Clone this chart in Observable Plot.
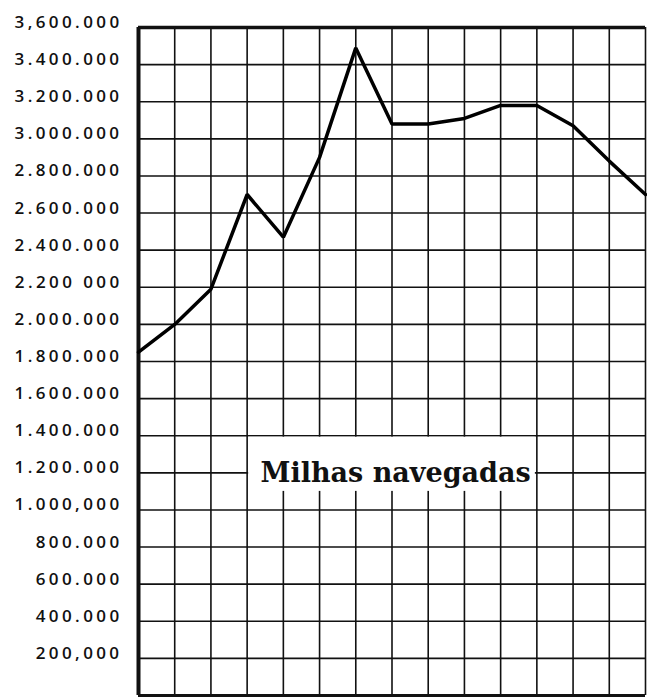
<!DOCTYPE html>
<html>
<head>
<meta charset="utf-8">
<script src="https://cdn.jsdelivr.net/npm/d3@7"></script>
<script src="https://cdn.jsdelivr.net/npm/@observablehq/plot@0.6"></script>
<style>
  html, body { margin: 0; padding: 0; background: #fff; }
</style>
</head>
<body>
<div id="chart"></div>
<script>
// Data
const periods = [0, 1, 2, 3, 4, 5, 6, 7, 8, 9, 10, 11, 12, 13, 14];
const miles = [1850000, 2000000, 2190000, 2700000, 2470000, 2900000, 3490000, 3080000, 3080000, 3110000, 3180000, 3180000, 3070000, 2880000, 2700000];
const yTickValues = [200000, 400000, 600000, 800000, 1000000, 1200000, 1400000, 1600000, 1800000, 2000000, 2200000, 2400000, 2600000, 2800000, 3000000, 3200000, 3400000, 3600000];
const yTickLabels = ["200,000", "400.000", "600.000", "800.000", "1.000,000", "1.200.000", "1.400.000", "1.600.000", "1.800.000", "2.000.000", "2.200 000", "2.400.000", "2.600.000", "2.800.000", "3.000.000", "3.200.000", "3.400.000", "3,600.000"];
const title = "Milhas navegadas";

const data = periods.map((p, i) => ({x: p, y: miles[i]}));
const ticks = yTickValues.map((v, i) => ({v, label: yTickLabels[i]}));
const gridY = [0, ...yTickValues];

const chart = Plot.plot({
  width: 647,
  height: 698,
  marginLeft: 138,
  marginRight: 2,
  marginTop: 27,
  marginBottom: 3,
  x: {domain: [0, 14], axis: null},
  y: {domain: [0, 3600000], axis: null},
  style: {background: "#fff"},
  marks: [
    Plot.ruleX(periods, {x: d => d, stroke: "#111", strokeWidth: 1.6}),
    Plot.ruleY(gridY, {y: d => d, stroke: "#111", strokeWidth: 1.6}),
    // white label box
    Plot.rect([{x1: 3, x2: 11, y1: 1100000, y2: 1400000}], {x1: "x1", x2: "x2", y1: "y1", y2: "y2", fill: "#fff", insetLeft: 1.5, insetRight: 1.5, insetTop: 1.5}),
    // frame
    Plot.ruleX([0], {x: d => d, stroke: "#111", strokeWidth: 4}),
    Plot.ruleY([3600000], {y: d => d, stroke: "#111", strokeWidth: 3.5}),
    Plot.ruleY([0], {y: d => d, stroke: "#111", strokeWidth: 3}),
    Plot.line(data, {x: "x", y: "y", stroke: "#000", strokeWidth: 3.5, strokeLinejoin: "miter"}),
    Plot.text(ticks, {
      x: () => 0, y: "v", text: "label",
      textAnchor: "end", dx: -16, dy: -5,
      fontSize: 17, fontFamily: "Open Sans", fontWeight: 600, fill: "#111"
    }),
    Plot.text([title], {
      x: () => 7.1, y: () => 1150000, text: d => d,
      textAnchor: "middle", lineAnchor: "bottom",
      fontSize: 27, fontFamily: "DejaVu Serif", fontWeight: "bold", fill: "#111"
    })
  ]
});
d3.select(chart).selectAll("text")
  .filter(function() { return yTickLabels.includes(this.textContent); })
  .style("letter-spacing", "3.4px");
document.getElementById("chart").appendChild(chart);
</script>
</body>
</html>
